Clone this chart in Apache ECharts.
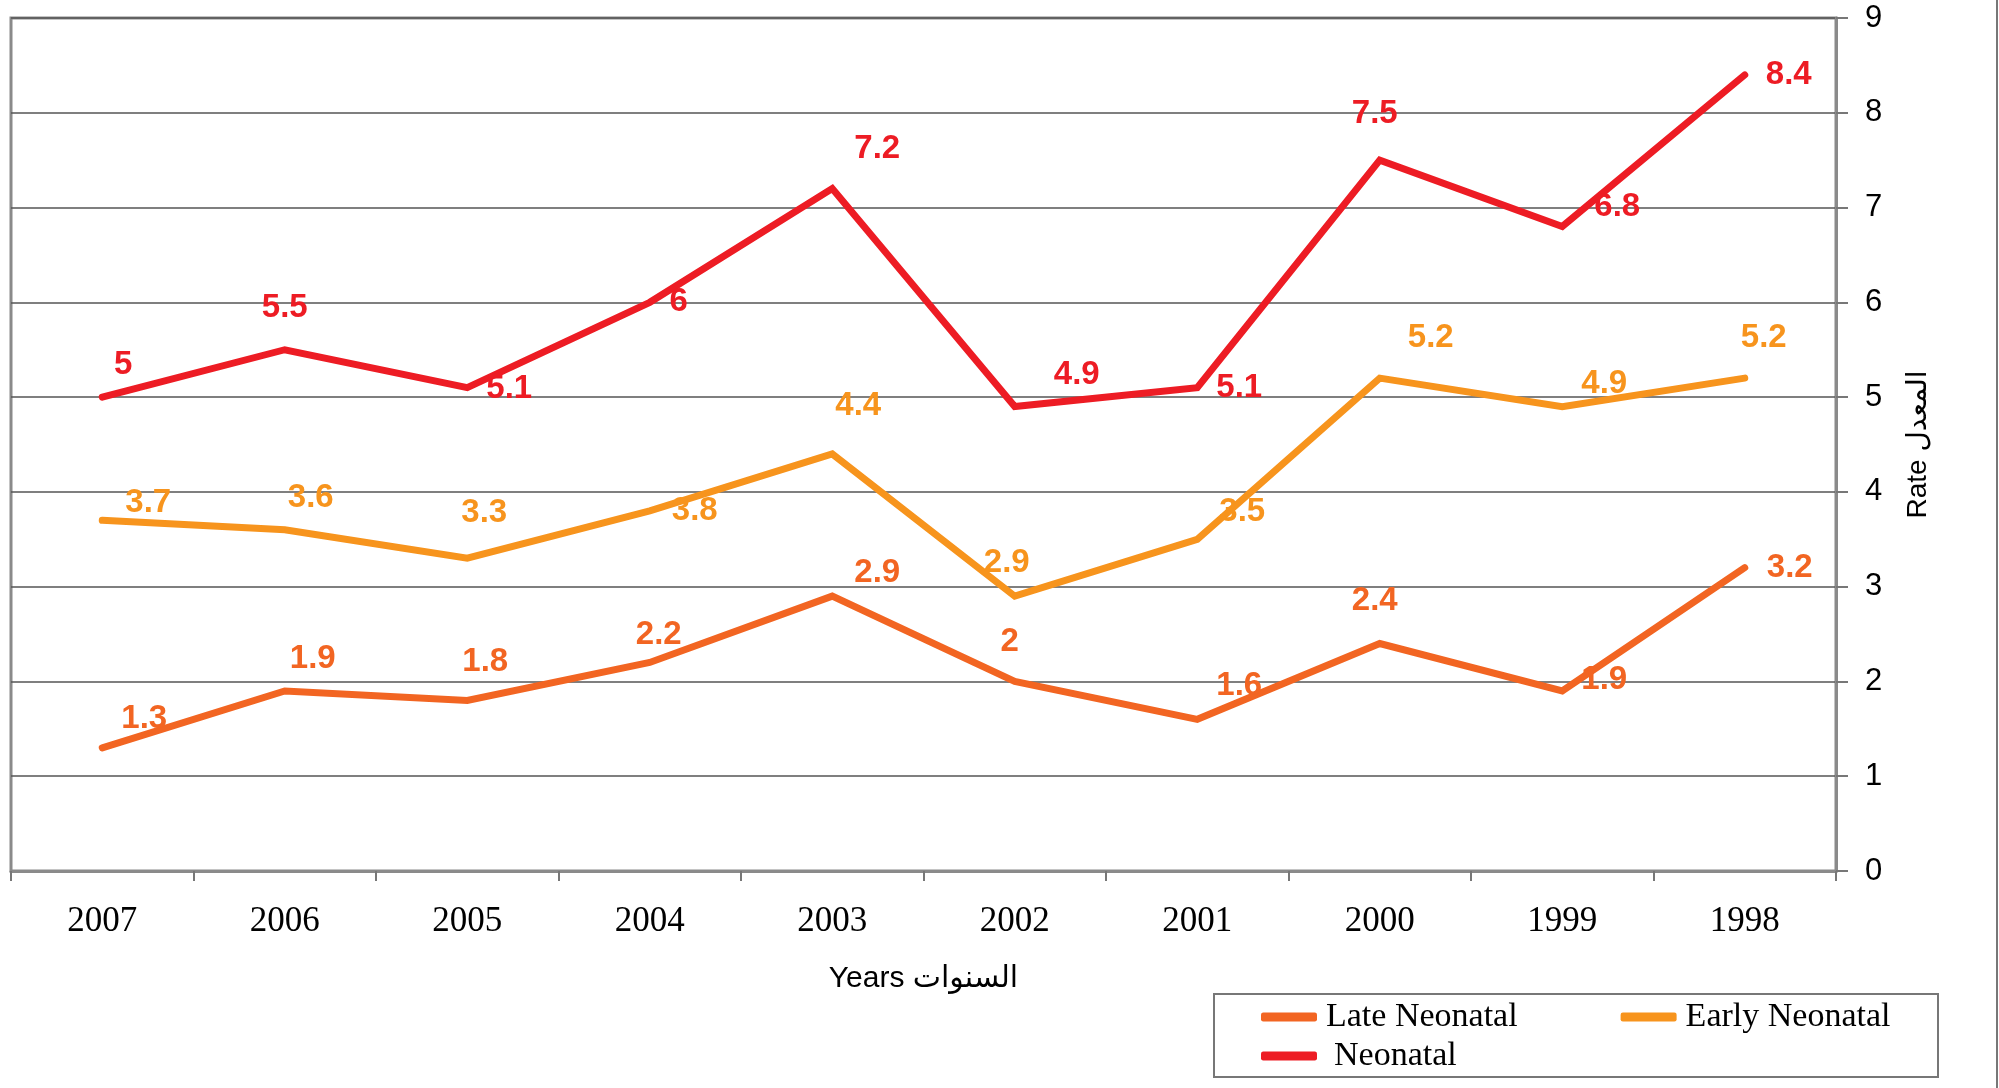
<!DOCTYPE html>
<html>
<head>
<meta charset="utf-8">
<script src="https://cdn.jsdelivr.net/npm/echarts@6/dist/echarts.min.js"></script>
<style>
  html, body { margin: 0; padding: 0; background: #fff; }
  #chart { width: 1999px; height: 1088px; }
</style>
</head>
<body>
<div id="chart"></div>
<script>
const years = ["2007", "2006", "2005", "2004", "2003", "2002", "2001", "2000", "1999", "1998"];
const neonatal = [5, 5.5, 5.1, 6, 7.2, 4.9, 5.1, 7.5, 6.8, 8.4];
const earlyNeonatal = [3.7, 3.6, 3.3, 3.8, 4.4, 2.9, 3.5, 5.2, 4.9, 5.2];
const lateNeonatal = [1.3, 1.9, 1.8, 2.2, 2.9, 2, 1.6, 2.4, 1.9, 3.2];
const yTicks = [0, 1, 2, 3, 4, 5, 6, 7, 8, 9];

// where each value label sits relative to its point (px)
const neoLabelAt = [[21, -32], [0, -42], [42, 1], [29, 0], [45, -40], [62, -32], [42, 0], [-5, -46], [55, -20], [44, 0]];
const earlyLabelAt = [[46, -17], [26, -32], [17, -45], [45, 0], [26, -48], [-8, -33], [45, -27], [51, -40], [42, -23], [19, -40]];
const lateLabelAt = [[42, -29], [28, -32], [18, -38], [9, -28], [45, -23], [-5, -40], [42, -33], [-5, -43], [42, -11], [45, 0]];

const RED = "#ED1C24", AMBER = "#F7941D", ORANGE = "#F26522";
const SANS = "Liberation Sans, Arial, DejaVu Sans, sans-serif";
const SERIF = "Liberation Serif, Times New Roman, serif";

function makeSeries(name, values, color, offsets) {
  return {
    name: name,
    type: "line",
    data: values.map((v, i) => ({
      value: v,
      label: { offset: offsets[i] }
    })),
    symbol: "circle",
    symbolSize: 1,
    itemStyle: { color: color },
    lineStyle: { color: color, width: 7, cap: "round", join: "miter" },
    label: {
      show: true,
      position: "inside",
      color: color,
      fontFamily: SANS,
      fontWeight: "bold",
      fontSize: 33
    },
    emphasis: { disabled: true },
    animation: false
  };
}

const chart = echarts.init(document.getElementById("chart"));
chart.setOption({
  backgroundColor: "#fff",
  animation: false,
  grid: {
    left: 11, right: 163, top: 18, bottom: 217,
    show: true, borderColor: "#8a8a8a", borderWidth: 3
  },
  xAxis: {
    type: "category",
    data: years,
    boundaryGap: true,
    axisLine: { lineStyle: { color: "#8a8a8a", width: 3 } },
    axisTick: { show: true, length: 10, lineStyle: { color: "#777", width: 2 } },
    axisLabel: { color: "#000", fontFamily: SERIF, fontSize: 35, margin: 33 },
    name: "Years السنوات",
    nameLocation: "middle",
    nameGap: 93,
    nameTextStyle: { color: "#000", fontFamily: SANS, fontSize: 30 }
  },
  yAxis: {
    type: "value",
    position: "right",
    min: yTicks[0],
    max: yTicks[yTicks.length - 1],
    interval: 1,
    axisLine: { show: true, lineStyle: { color: "#8a8a8a", width: 3 } },
    axisTick: { show: true, length: 12, lineStyle: { color: "#777", width: 2 } },
    axisLabel: { color: "#000", fontFamily: SANS, fontSize: 31, margin: 29 },
    splitLine: { show: true, lineStyle: { color: "#555", width: 1.5 } },
    name: "Rate المعدل",
    nameLocation: "middle",
    nameRotate: 90,
    nameGap: 68,
    nameTextStyle: { color: "#000", fontFamily: SANS, fontSize: 28 }
  },
  legend: [
    {
      data: ["Late Neonatal", "Early Neonatal"],
      left: 1256, top: 995,
      orient: "horizontal",
      icon: "roundRect",
      itemWidth: 56, itemHeight: 9, itemGap: 103,
      textStyle: { color: "#000", fontFamily: SERIF, fontSize: 34, padding: [0, 0, 0, 4] }
    },
    {
      data: ["Neonatal"],
      left: 1256, top: 1034,
      orient: "horizontal",
      icon: "roundRect",
      itemWidth: 56, itemHeight: 9,
      textStyle: { color: "#000", fontFamily: SERIF, fontSize: 34, padding: [0, 0, 0, 12] }
    }
  ],
  graphic: [
    {
      type: "rect",
      shape: { x: 1214, y: 994, width: 724, height: 83 },
      style: { fill: null, stroke: "#777", lineWidth: 2 },
      z: -1
    },
    {
      type: "line",
      shape: { x1: 1997, y1: 0, x2: 1997, y2: 1088 },
      style: { stroke: "#777", lineWidth: 2 }
    }
  ],
  series: [
    makeSeries("Late Neonatal", lateNeonatal, ORANGE, lateLabelAt),
    makeSeries("Early Neonatal", earlyNeonatal, AMBER, earlyLabelAt),
    makeSeries("Neonatal", neonatal, RED, neoLabelAt)
  ]
});
</script>
</body>
</html>
